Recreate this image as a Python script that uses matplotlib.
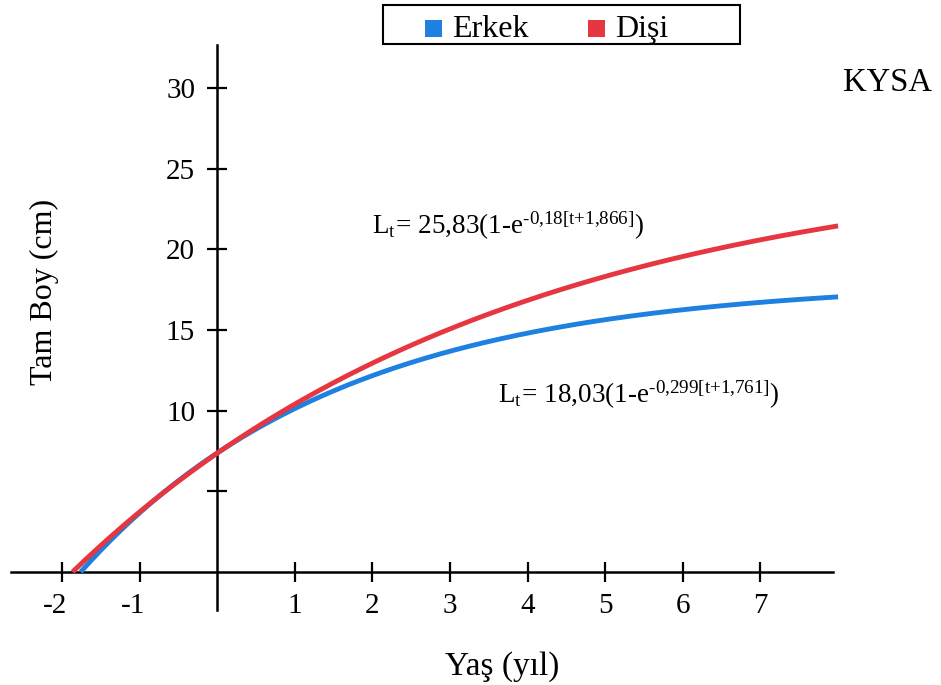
import numpy as np
import matplotlib.pyplot as plt
from matplotlib.patches import Rectangle

plt.rcParams['font.family'] = ['Liberation Serif', 'DejaVu Serif']
plt.rcParams['mathtext.fontset'] = 'custom'
plt.rcParams['mathtext.rm'] = 'Liberation Serif'
plt.rcParams['mathtext.it'] = 'Liberation Serif:italic'
plt.rcParams['axes.unicode_minus'] = False

# von Bertalanffy growth parameters (L_inf, k, t0)
groups = ['Erkek', 'Dişi']
l_inf = [18.03, 25.83]
k_rate = [0.299, 0.18]
t_zero = [-1.761, -1.866]
colors = ['#1e80e0', '#e6363f']
t_end = 8.0

x_ticks = [-2, -1, 1, 2, 3, 4, 5, 6, 7]
y_ticks = [5, 10, 15, 20, 25, 30]
y_tick_labels = ['', '10', '15', '20', '25', '30']

fig = plt.figure(figsize=(9.41, 6.85), dpi=100)
ax = fig.add_axes([0, 0, 1, 1])
ax.set_xlim(-2.80, 9.326)
ax.set_ylim(-7.006, 35.46)

for g, linf, kk, t0, c in zip(groups, l_inf, k_rate, t_zero, colors):
    t = np.linspace(t0, t_end, 300)
    lt = linf * (1 - np.exp(-kk * (t - t0)))
    ax.plot(t, lt, color=c, lw=3.5, solid_capstyle='butt', zorder=3)

# axes crossing at the origin
for side in ['top', 'right']:
    ax.spines[side].set_visible(False)
ax.spines['left'].set_position(('data', 0))
ax.spines['bottom'].set_position(('data', 0))
ax.spines['left'].set_bounds(-2.36, 32.67)
ax.spines['bottom'].set_bounds(-2.66, 7.93)
for side in ['left', 'bottom']:
    ax.spines[side].set_linewidth(1.8)

ax.set_xticks(x_ticks)
ax.set_xticklabels([])
ax.set_yticks(y_ticks)
ax.set_yticklabels(y_tick_labels)
ax.tick_params(direction='inout', length=14, width=1.6, labelsize=21)
ax.tick_params(axis='y', pad=9)

# x tick labels: the digit sits under the tick, the hyphen hangs left
for v in x_ticks:
    dx = -5 if v < 0 else 0
    ax.annotate(str(v), xy=(v, 0), xytext=(dx, -15), textcoords='offset points',
                ha='center', va='top', fontsize=21)

eq_f = r'$\mathrm{L_t\!=\,25{,}83(1‐e^{‐0{,}18[t{+}1{,}866]})}$'
eq_m = r'$\mathrm{L_t\!=\,18{,}03(1‐e^{‐0{,}299[t{+}1{,}761]})}$'
ax.text(1.99, 20.95, eq_f, fontsize=19.5, ha='left', va='baseline')
ax.text(3.617, 10.48, eq_m, fontsize=19.5, ha='left', va='baseline')

ax.text(8.06, 29.84, 'KYSA', fontsize=23.5, ha='left', va='baseline')
ax.text(3.67, -5.85, 'Yaş (yıl)', fontsize=24, ha='center', va='center')
ax.text(-2.233, 17.36, 'Tam Boy (cm)', fontsize=23, ha='center', va='center',
        rotation=90)

# legend box drawn in figure pixels
W, H = 941, 685
tf = fig.transFigure
fig.patches.append(Rectangle((383 / W, 1 - 44 / H), 357 / W, 39 / H,
                             transform=tf, fill=False, ec='black', lw=1.5))
for g, c, sq_x, txt_x in zip(groups, colors, [425, 588], [452, 615]):
    fig.patches.append(Rectangle((sq_x / W, 1 - 36.5 / H), 17 / W, 17 / H,
                                 transform=tf, fc=c, ec='none'))
    fig.text(txt_x / W, 1 - 36.7 / H, g, fontsize=23, ha='left', va='baseline')

fig.savefig('out.png', dpi=100)
